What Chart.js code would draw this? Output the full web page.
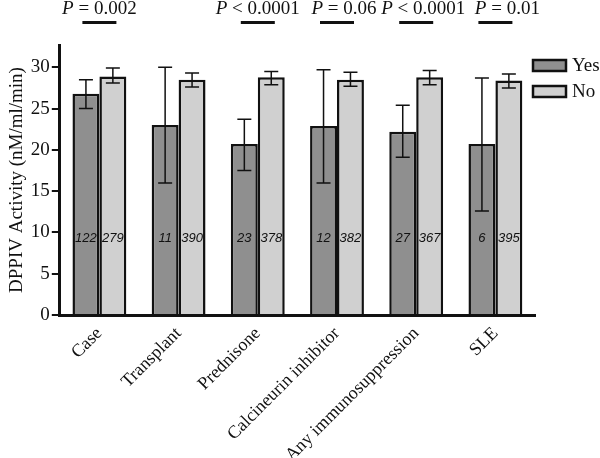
<!DOCTYPE html>
<html>
<head>
<meta charset="utf-8">
<script src="https://cdn.jsdelivr.net/npm/chart.js@4"></script>
<style>
  body { margin: 0; background: #fff; }
  #wrap { width: 600px; height: 458px; }
</style>
</head>
<body>
<div id="wrap"><canvas id="chart" width="600" height="458"></canvas></div>
<script>
// --- Data ---
const categories = ['Case', 'Transplant', 'Prednisone', 'Calcineurin inhibitor', 'Any immunosuppression', 'SLE'];
const yesMeans = [26.8, 23.0, 20.7, 22.9, 22.2, 20.7];
const yesUpper = [28.5, 30.0, 23.7, 29.7, 25.4, 28.7];
const yesLower = [25.0, 16.0, 17.5, 16.0, 19.1, 12.6];
const noMeans = [28.9, 28.5, 28.8, 28.5, 28.8, 28.4];
const noUpper = [29.9, 29.3, 29.5, 29.4, 29.6, 29.2];
const noLower = [28.1, 27.6, 27.9, 27.7, 27.9, 27.5];
const yesN = [122, 11, 23, 12, 27, 6];
const noN = [279, 390, 378, 382, 367, 395];
const pLabels = ['= 0.002', null, '< 0.0001', '= 0.06', '< 0.0001', '= 0.01'];
const yTicks = [0, 5, 10, 15, 20, 25, 30];
const nLabelValue = 9.3;

// --- Style ---
const SERIF = '"Liberation Serif", "Times New Roman", serif';
const SANS = '"Liberation Sans", Arial, sans-serif';
const YES_COLOR = '#8f8f8f';
const NO_COLOR = '#d0d0d0';
const P_TEXT_SHIFT = [0, 0, 0, 7, 7, 12]; // the P labels sit a bit right of centre in the original

const upper = [yesUpper, noUpper];
const lower = [yesLower, noLower];
const counts = [yesN, noN];

// Error bars, n labels, P values and legend
const annotations = {
    id: 'annotations',
    afterDatasetsDraw(chart) {
        const ctx = chart.ctx;
        const y = chart.scales.y;
        const x = chart.scales.x;
        ctx.save();

        // error bars
        ctx.strokeStyle = '#111';
        ctx.lineWidth = 1.5;
        [0, 1].forEach(d => {
            chart.getDatasetMeta(d).data.forEach((bar, i) => {
                const yHi = y.getPixelForValue(upper[d][i]);
                const yLo = y.getPixelForValue(lower[d][i]);
                ctx.beginPath();
                ctx.moveTo(bar.x, yHi);
                ctx.lineTo(bar.x, yLo);
                ctx.moveTo(bar.x - 7, yHi);
                ctx.lineTo(bar.x + 7, yHi);
                ctx.moveTo(bar.x - 7, yLo);
                ctx.lineTo(bar.x + 7, yLo);
                ctx.stroke();
            });
        });

        // n labels
        ctx.fillStyle = '#111';
        ctx.font = 'italic 13px ' + SANS;
        ctx.textAlign = 'center';
        ctx.textBaseline = 'middle';
        [0, 1].forEach(d => {
            chart.getDatasetMeta(d).data.forEach((bar, i) => {
                ctx.fillText(String(counts[d][i]), bar.x, y.getPixelForValue(nLabelValue));
            });
        });

        // P values
        ctx.textBaseline = 'alphabetic';
        ctx.textAlign = 'left';
        pLabels.forEach((txt, i) => {
            if (!txt) return;
            const cx = x.getPixelForValue(i);
            ctx.font = 'italic 19px ' + SERIF;
            const wP = ctx.measureText('P ').width;
            ctx.font = '19px ' + SERIF;
            const wT = ctx.measureText(txt).width;
            const start = cx + P_TEXT_SHIFT[i] - (wP + wT) / 2;
            ctx.font = 'italic 19px ' + SERIF;
            ctx.fillText('P', start, 14);
            ctx.font = '19px ' + SERIF;
            ctx.fillText(txt, start + wP, 14);
            ctx.fillRect(cx - 17, 21, 34, 3);
        });

        // legend
        const items = [['Yes', YES_COLOR], ['No', NO_COLOR]];
        items.forEach((it, k) => {
            const ly = 60 + k * 26;
            ctx.fillStyle = it[1];
            ctx.fillRect(533, ly, 33, 11);
            ctx.strokeStyle = '#111';
            ctx.lineWidth = 2.5;
            ctx.strokeRect(533, ly, 33, 11);
            ctx.fillStyle = '#111';
            ctx.font = '19px ' + SERIF;
            ctx.textBaseline = 'middle';
            ctx.fillText(it[0], 572, ly + 6);
        });
        ctx.restore();
    }
};

new Chart(document.getElementById('chart'), {
    type: 'bar',
    data: {
        labels: categories,
        datasets: [{
            label: 'Yes',
            data: yesMeans,
            backgroundColor: YES_COLOR,
            borderColor: '#111',
            borderWidth: 2.5,
            borderSkipped: 'bottom'
        }, {
            label: 'No',
            data: noMeans,
            backgroundColor: NO_COLOR,
            borderColor: '#111',
            borderWidth: 2.5,
            borderSkipped: 'bottom'
        }]
    },
    options: {
        responsive: false,
        animation: false,
        layout: { padding: { top: 45, right: 65, left: 6, bottom: 0 } },
        datasets: { bar: { categoryPercentage: 0.68, barPercentage: 1 } },
        plugins: {
            legend: { display: false },
            tooltip: { enabled: false }
        },
        scales: {
            x: {
                grid: { display: false },
                border: { display: true, color: '#111', width: 3 },
                ticks: {
                    color: '#111',
                    font: { family: SERIF, size: 18 },
                    maxRotation: 45,
                    minRotation: 45,
                    padding: 0
                },
                afterFit: (scale) => { scale.height = 143; }
            },
            y: {
                min: 0,
                max: 32.7,
                afterBuildTicks: (scale) => {
                    scale.ticks = yTicks.map(v => ({ value: v }));
                },
                grid: { display: true, drawOnChartArea: false, tickLength: 8, color: '#111', lineWidth: 2 },
                border: { display: true, color: '#111', width: 3 },
                ticks: {
                    color: '#111',
                    font: { family: SERIF, size: 19 },
                    padding: 2
                },
                title: {
                    display: true,
                    text: 'DPPIV Activity (nM/ml/min)',
                    color: '#111',
                    font: { family: SERIF, size: 19 },
                    padding: 0
                }
            }
        }
    },
    plugins: [annotations]
});
</script>
</body>
</html>
